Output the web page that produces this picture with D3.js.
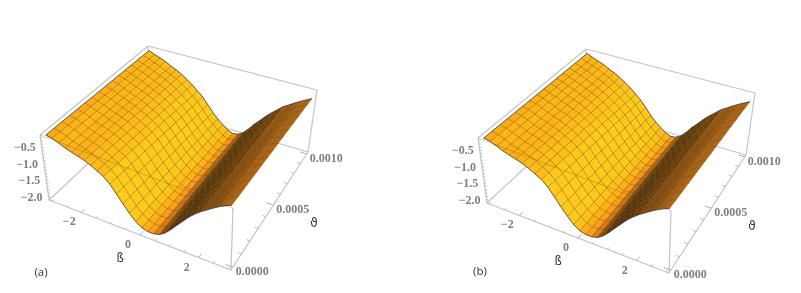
<!DOCTYPE html>
<html><head><meta charset="utf-8">
<script src="https://cdn.jsdelivr.net/npm/d3@7"></script>
<style>html,body{margin:0;background:#fff}svg{display:block;filter:blur(0.45px)}</style>
</head><body><script>
// ---- data ----
const betaValues = d3.range(31).map(i => -3 + i * 0.2);
const thetaRows = [0, 0.0005, 0.001];
const zFront = [-.15,-.18,-.25,-.33,-.39,-.44,-.50,-.58,-.68,-.78,-.95,-1.18,-1.42,-1.64,-1.83,-1.95,-2.0,-2.0,-1.95,-1.83,-1.65,-1.45,-1.25,-1.05,-.88,-.73,-.60,-.47,-.35,-.25,-.16];
const zMiddle = [-.18,-.23,-.30,-.38,-.45,-.52,-.60,-.70,-.81,-.94,-1.10,-1.31,-1.53,-1.73,-1.89,-2.01,-2.07,-2.06,-1.98,-1.84,-1.65,-1.46,-1.27,-1.09,-.94,-.79,-.67,-.55,-.44,-.35,-.26];
const zBack = [-.2,-.28,-.35,-.42,-.52,-.6,-.7,-.82,-.95,-1.1,-1.25,-1.45,-1.65,-1.82,-1.95,-2.07,-2.14,-2.12,-2.02,-1.85,-1.65,-1.48,-1.3,-1.14,-1,-.85,-.75,-.64,-.54,-.45,-.36];
const zRows = [zFront, zMiddle, zBack];
const thetaMeshCount = 15;
const betaMajor = [-2, 0, 2];
const betaMinor = d3.range(-3, 3.01, 0.5);
const zMajor = [-0.5, -1.0, -1.5, -2.0];
const zMinor = d3.range(-2.1, -0.15, 0.1);
const thetaMajor = [0, 0.0005, 0.001];
const thetaMinor = d3.range(0, 0.00101, 0.0001);
const panels = [{name:"(a)", dx:0, dy:0, lx:41, ly:271},{name:"(b)", dx:438, dy:3, lx:480, ly:270}];

const svg = d3.select("body").append("svg").attr("width",801).attr("height",293);

// box corners in pixels: [beta end][theta end][z end]
const corners = {
  "000":[49,200],"100":[231,270],"110":[308,152],"010":[150,106],
  "001":[40,135],"101":[233,208],"111":[317,90],"011":[148,46]
};
const bScale = d3.scaleLinear([-3.1,3.1],[0,1]);
const tScale = d3.scaleLinear([-0.00002,0.00102],[0,1]);
const zScale = d3.scaleLinear([-2.1,-0.12],[0,1]);
const persp = 1.22;
function warp(t){return persp*t/(1+(persp-1)*t);}
function project(b,th,z){
  const u=bScale(b), v=warp(tScale(th)), w=zScale(z);
  let x=0,y=0;
  for(const i of [0,1])for(const j of [0,1])for(const k of [0,1]){
    const c=corners[""+i+j+k];
    const f=(i?u:1-u)*(j?v:1-v)*(k?w:1-w);
    x+=f*c[0]; y+=f*c[1];
  }
  return [x,y];
}
function zAt(i,th){
  return d3.scaleLinear(thetaRows,zRows.map(r=>r[i]))(th);
}
const thetaGrid = d3.range(thetaMeshCount+1).map(i=>0.001*i/thetaMeshCount);
const slopeColor = d3.scaleLinear()
  .domain([-1.25,-0.75,-0.3,0.0,0.2,0.5,0.75,1.0])
  .range(["#ffcb1c","#ffc81a","#ffb216","#ff9f18","#ea861a","#a35c14","#6a3a0c","#4e2a08"])
  .clamp(true);

function boxLine(g,a,b){
  g.append("line").attr("x1",corners[a][0]).attr("y1",corners[a][1])
   .attr("x2",corners[b][0]).attr("y2",corners[b][1])
   .attr("stroke","#c4c4c4").attr("stroke-width",1.2);
}
const line=d3.line();
const label="#7f7f7f";
panels.forEach(p=>{
  const g=svg.append("g").attr("transform",`translate(${p.dx},${p.dy})`);
  [["000","010"],["010","110"],["010","011"]].forEach(e=>boxLine(g,e[0],e[1]));
  // surface fills, back to front, then the mesh above them
  const cells=g.append("g"), mesh=g.append("g");
  for(let j=thetaMeshCount-1;j>=0;j--){
    for(let i=0;i<betaValues.length-1;i++){
      const t0=thetaGrid[j],t1=thetaGrid[j+1],b0=betaValues[i],b1=betaValues[i+1];
      const z00=zAt(i,t0),z10=zAt(i+1,t0),z01=zAt(i,t1),z11=zAt(i+1,t1);
      const slope=((z10-z00)+(z11-z01))/2/(b1-b0);
      const pts=[project(b0,t0,z00),project(b1,t0,z10),project(b1,t1,z11),project(b0,t1,z01)];
      cells.append("path").attr("d",line(pts)+"Z").attr("fill",slopeColor(slope))
        .attr("stroke",slopeColor(slope)).attr("stroke-width",0.4);
    }
  }
  for(let j=1;j<thetaMeshCount;j++){
    mesh.append("path").attr("d",line(betaValues.map((b,i)=>project(b,thetaGrid[j],zAt(i,thetaGrid[j])))));
  }
  betaValues.forEach((b,i)=>{
    if(i===0||i===betaValues.length-1)return;
    mesh.append("path").attr("d",line(thetaGrid.map(t=>project(b,t,zAt(i,t)))));
  });
  mesh.selectAll("path").attr("fill","none").attr("stroke","#665210").attr("stroke-opacity",0.55).attr("stroke-width",0.85);
  // surface boundary
  const n=betaValues.length;
  const frontEdge=betaValues.map((b,i)=>project(b,0,zFront[i]));
  const backEdge=betaValues.map((b,i)=>project(b,0.001,zBack[i]));
  const leftEdge=[project(-3,0,zFront[0]),project(-3,0.001,zBack[0])];
  [frontEdge,backEdge,leftEdge].forEach(e=>{
    g.append("path").attr("d",line(e)).attr("fill","none").attr("stroke","#4d4d48").attr("stroke-width",0.9);
  });
  // box edges in front of the surface
  [["001","011"],["011","111"],["111","110"],["000","001"],["100","101"],["000","100"],["100","110"]].forEach(e=>boxLine(g,e[0],e[1]));
  g.append("line").attr("x1",corners["001"][0]).attr("y1",corners["001"][1]).attr("x2",corners["101"][0]).attr("y2",corners["101"][1])
    .attr("stroke","#5a4a10").attr("stroke-opacity",0.4).attr("stroke-width",0.7);
  // ticks
  const tick=(a,b,w)=>g.append("line").attr("x1",a[0]).attr("y1",a[1]).attr("x2",b[0]).attr("y2",b[1]).attr("stroke","#b0b0b0").attr("stroke-width",w);
  betaMinor.forEach(b=>{const m=betaMajor.includes(b);tick(project(b,-0.00002,-2.1),project(b,m?0.00001:-0.000005,-2.1),m?1:.8);});
  thetaMinor.forEach(t=>{const m=thetaMajor.some(q=>Math.abs(q-t)<1e-7);tick(project(3.1,t,-2.1),project(m?2.85:2.97,t,-2.1),m?1:.8);});
  zMinor.forEach(z=>{const a=project(-3.1,-0.00002,z);tick(a,[a[0]+2,a[1]],.8);});
  const txt=(s,x,y,anchor)=>g.append("text").text(s).attr("x",x).attr("y",y).attr("text-anchor",anchor)
    .attr("dominant-baseline","central").attr("font-family","'Liberation Serif',serif").attr("font-weight","bold")
    .attr("font-size",12).attr("fill",label);
  zMajor.forEach(z=>{const a=project(-3.1,-0.00002,z);txt("\u2212"+Math.abs(z).toFixed(1),a[0]-6,a[1],"end");});
  betaMajor.forEach(b=>{const a=project(b,-0.00002,-2.1);txt((b<0?"\u2212":"")+Math.abs(b),a[0]-12,a[1]+9,"middle");});
  thetaMajor.forEach(t=>{const a=project(3.1,t,-2.1);txt(t.toFixed(4),a[0]+3,a[1]+4,"start");});
  const dark=(s,x,y,size)=>g.append("text").text(s).attr("x",x).attr("y",y).attr("text-anchor","middle")
    .attr("dominant-baseline","central").attr("font-family","'DejaVu Sans',sans-serif").attr("font-size",size).attr("fill","#333");
  dark("\u00df",120,258,11.5);
  dark("\u03d1",314,223,12);
});
panels.forEach(p=>{
  svg.append("text").text(p.name).attr("x",p.lx).attr("y",p.ly).attr("text-anchor","middle")
   .attr("dominant-baseline","central").attr("font-family","'Open Sans',sans-serif").attr("font-size",11.5).attr("fill","#333");
});
</script></body></html>
